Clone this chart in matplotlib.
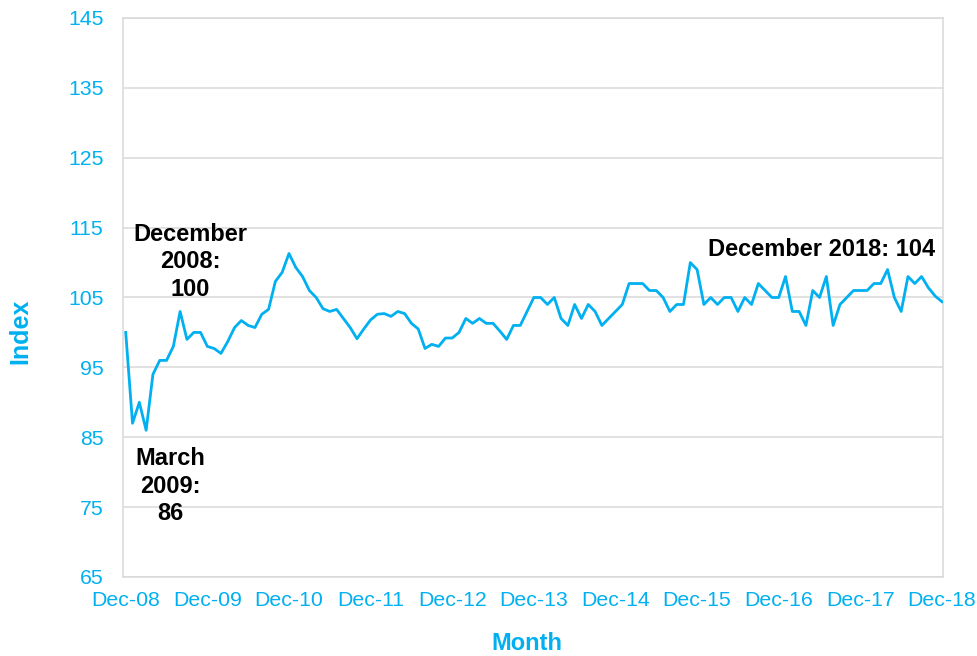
#!/usr/bin/env python3
"""Monthly index, Dec-08 to Dec-18, single line with callouts."""

import matplotlib
matplotlib.use("Agg")
import matplotlib.pyplot as plt
import numpy as np

plt.rcParams["font.family"] = ["Liberation Sans", "DejaVu Sans"]

BLUE = "#00B0F0"
GRID = "#D9D9D9"

# one value per month, Dec-2008 .. Dec-2018
index_values = [
    100,
    87, 90, 86, 94, 96, 96, 98, 103, 99, 100, 100, 98,                   # 2009
    97.7, 97, 98.7, 100.7, 101.7, 101, 100.7, 102.6, 103.3, 107.3, 108.6, 111.3,  # 2010
    109.3, 108, 106, 105, 103.4, 103, 103.3, 102, 100.7, 99.1, 100.5, 101.8,      # 2011
    102.6, 102.7, 102.3, 103, 102.7, 101.3, 100.5, 97.7, 98.3, 98, 99.2, 99.2,    # 2012
    100, 102, 101.3, 102, 101.3, 101.3, 100.2, 99, 101, 101, 103, 105,            # 2013
    105, 104, 105, 102, 101, 104, 102, 104, 103, 101, 102, 103,                   # 2014
    104, 107, 107, 107, 106, 106, 105, 103, 104, 104, 110, 109,                   # 2015
    104, 105, 104, 105, 105, 103, 105, 104, 107, 106, 105, 105,                   # 2016
    108, 103, 103, 101, 106, 105, 108, 101, 104, 105, 106, 106,                   # 2017
    106, 107, 107, 109, 105, 103, 108, 107, 108, 106.4, 105.2, 104.4,             # 2018
]

tick_labels = ["Dec-08", "Dec-09", "Dec-10", "Dec-11", "Dec-12", "Dec-13",
               "Dec-14", "Dec-15", "Dec-16", "Dec-17", "Dec-18"]
y_ticks = [65, 75, 85, 95, 105, 115, 125, 135, 145]

callouts = [
    ("December\n2008:\n100", 9.5, 110.1),
    ("March\n2009:\n86", 6.5, 78.0),
    ("December 2018: 104", 102.3, 111.9),
]


def main() -> None:
    fig = plt.figure(figsize=(9.77, 6.56), dpi=100)
    ax = fig.add_axes([123 / 977, 1 - 577 / 656, 820 / 977, 559 / 656])

    months = np.arange(len(index_values))
    ax.plot(months, index_values, color=BLUE, lw=2, zorder=3)

    ax.set_xlim(-0.4, 120.15)
    ax.set_ylim(65, 145)
    ax.set_yticks(y_ticks)
    ax.set_xticks(np.arange(0, len(index_values), 12))
    ax.set_xticklabels(tick_labels)

    ax.tick_params(axis="both", length=0, labelsize=15.3, labelcolor=BLUE)
    ax.tick_params(axis="x", pad=10)
    ax.tick_params(axis="y", pad=14)

    ax.grid(axis="y", color=GRID, lw=1.1, zorder=0)
    for sp in ax.spines.values():
        sp.set_color(GRID)
        sp.set_linewidth(1.1)

    for text, x, y in callouts:
        ax.text(x, y, text, ha="center", va="center", fontsize=17,
                fontweight="bold", color="black", linespacing=1.25, zorder=4)

    fig.text(20 / 977, 1 - 331 / 656, "Index", rotation=90, ha="center",
             va="center", fontsize=18, fontweight="bold", color=BLUE)
    fig.text(527 / 977, 1 - 643 / 656, "Month", ha="center", va="center",
             fontsize=17, fontweight="bold", color=BLUE)

    fig.savefig("out.png", dpi=100)
    plt.close(fig)


if __name__ == "__main__":
    main()
